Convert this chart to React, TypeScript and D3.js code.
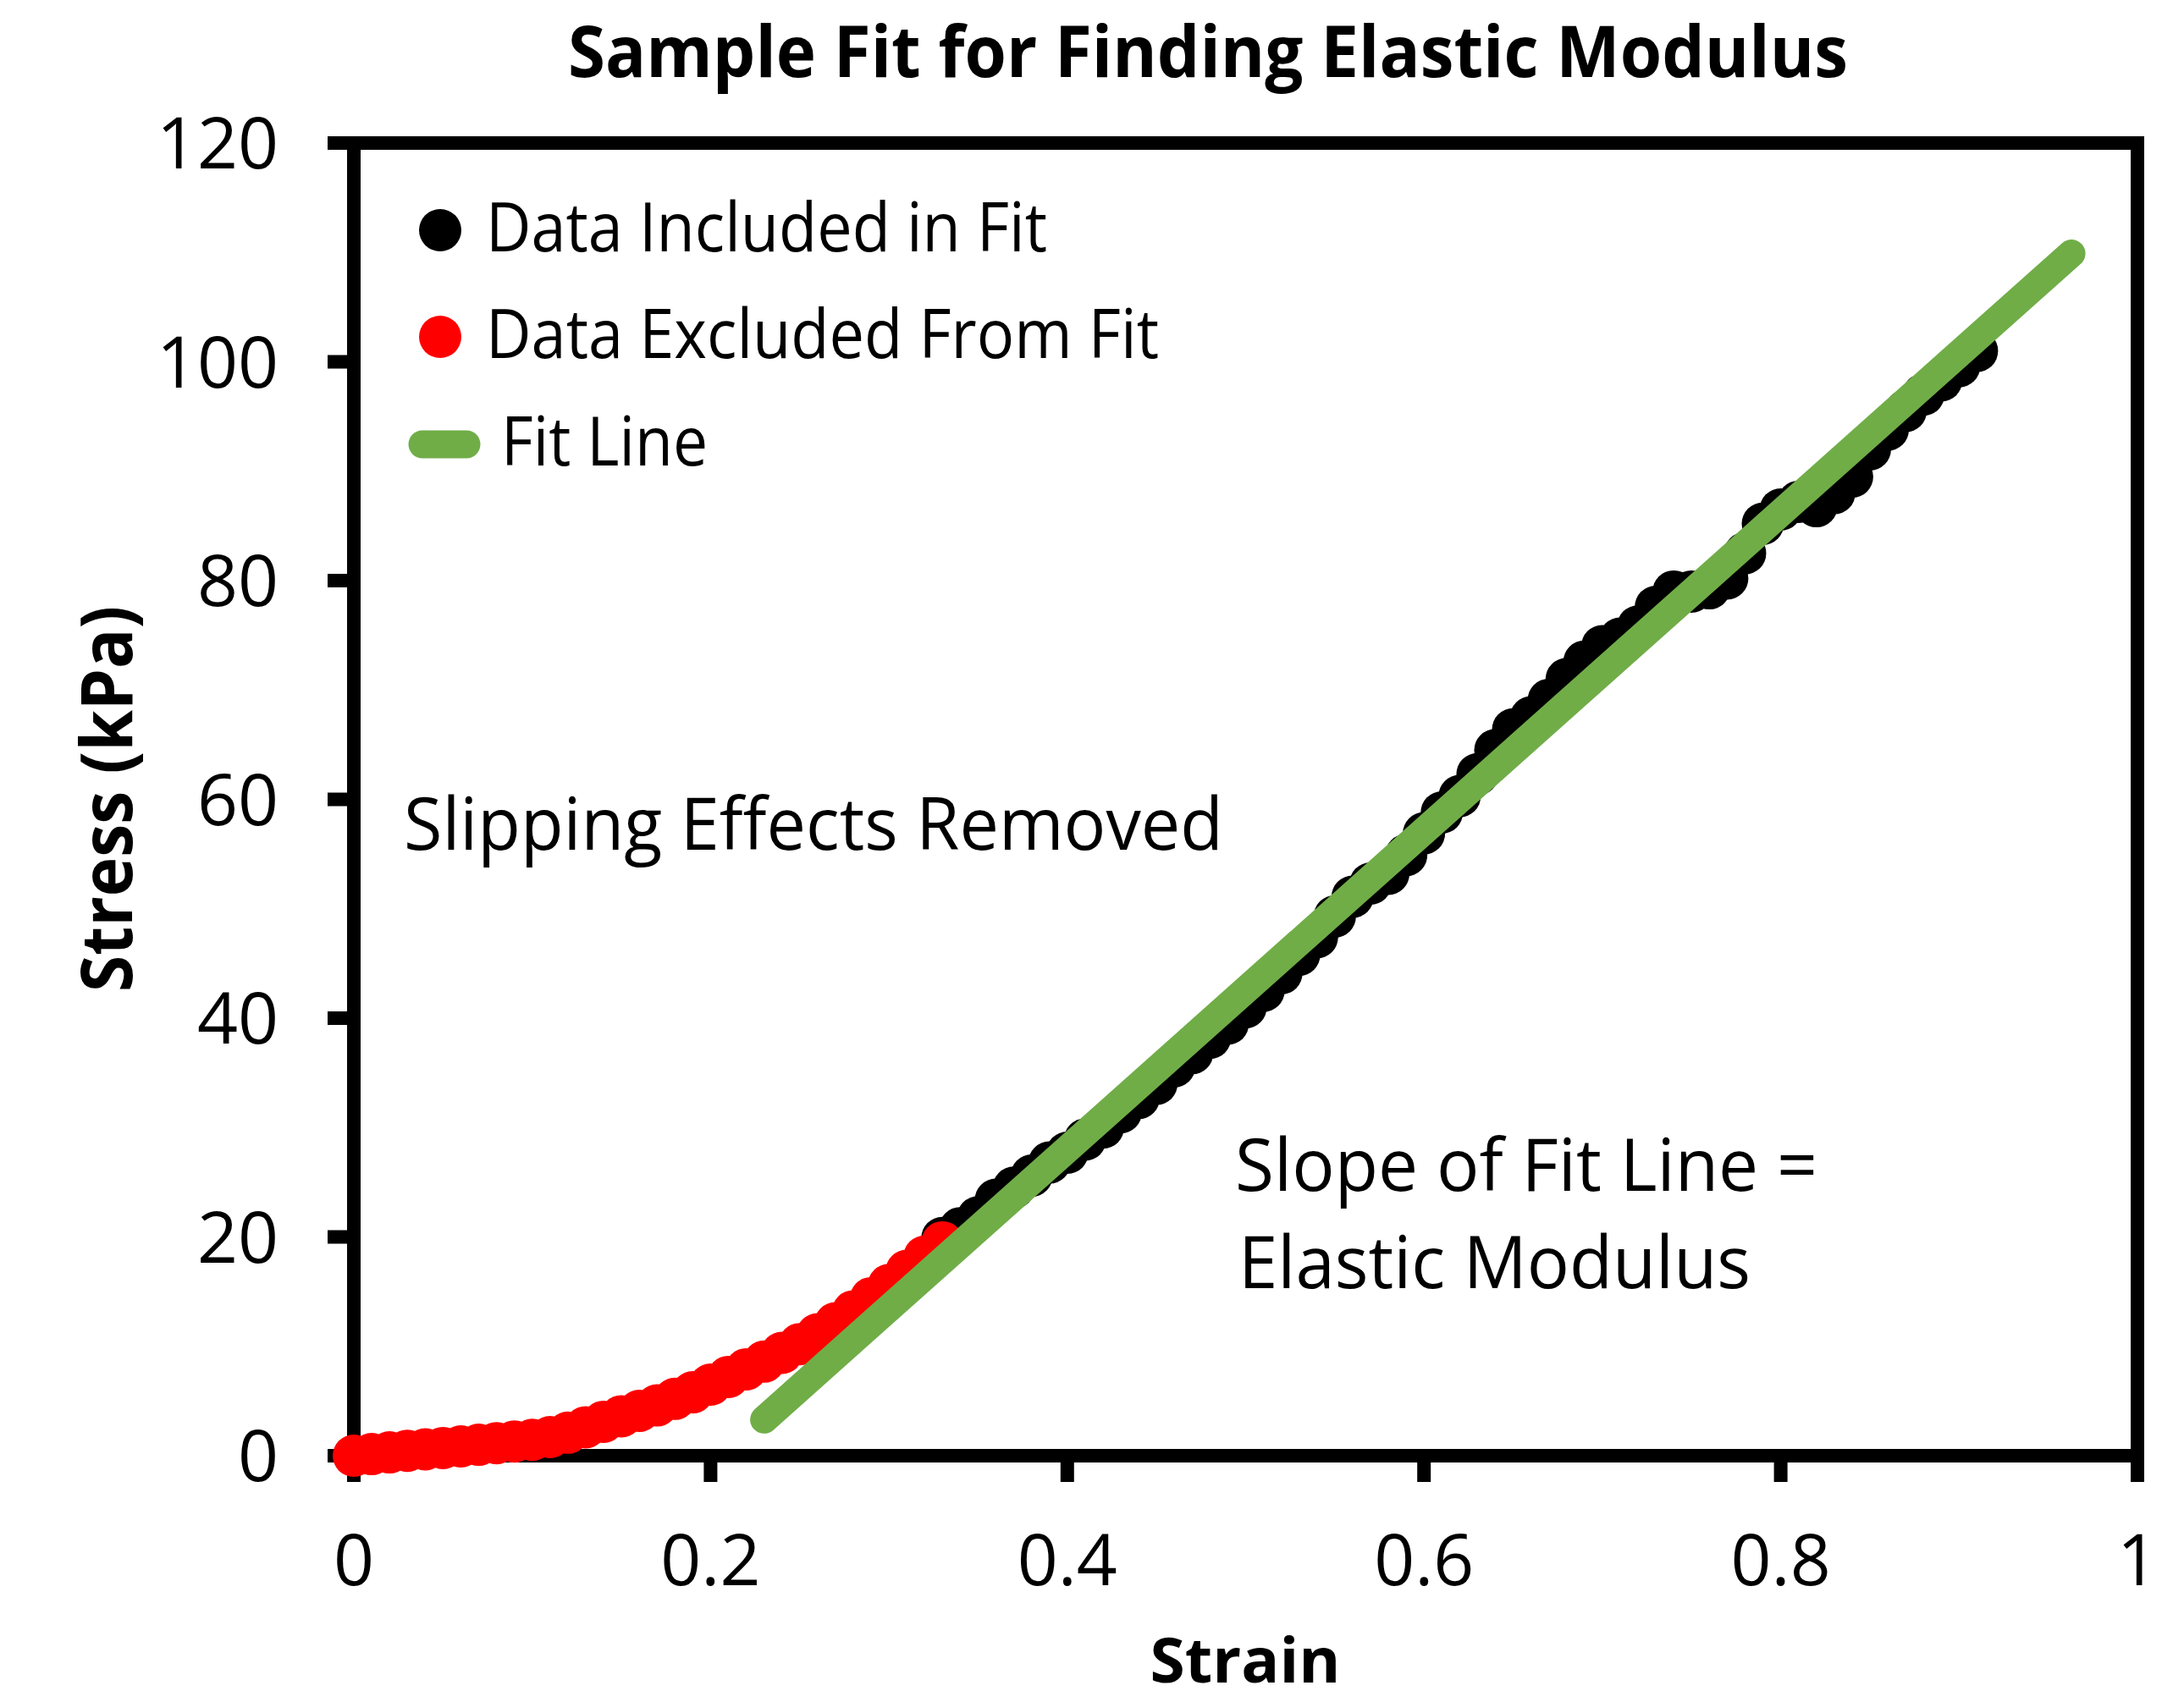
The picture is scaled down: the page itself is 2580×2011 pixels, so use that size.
import * as d3 from 'd3';
import { useEffect, useRef } from 'react';

// data excluded from the fit (slipping region)
const redStrain = [0, 0.01, 0.02, 0.03, 0.04, 0.05, 0.06, 0.07, 0.08, 0.09, 0.1, 0.11, 0.12, 0.13, 0.14, 0.15, 0.16,
  0.17, 0.18, 0.19, 0.2, 0.21, 0.22, 0.23, 0.24, 0.25, 0.26, 0.27, 0.28, 0.29, 0.3, 0.31, 0.32, 0.33];
const redStress = [0, 0.15, 0.3, 0.45, 0.58, 0.7, 0.85, 1.0, 1.15, 1.3, 1.45, 1.7, 2.1, 2.6, 3.1, 3.6, 4.1,
  4.6, 5.2, 5.8, 6.5, 7.2, 7.9, 8.6, 9.4, 10.2, 11.1, 12.1, 13.2, 14.4, 15.6, 16.9, 18.2, 19.5];

// data included in the fit
const blackStrain = [0.33, 0.34, 0.35, 0.36, 0.37, 0.38, 0.39, 0.4, 0.41, 0.42, 0.43, 0.44, 0.45, 0.46, 0.47, 0.48,
  0.49, 0.5, 0.51, 0.52, 0.53, 0.54, 0.55, 0.56, 0.57, 0.58, 0.59, 0.6, 0.61, 0.62, 0.63, 0.64, 0.65, 0.66, 0.67,
  0.68, 0.69, 0.7, 0.71, 0.72, 0.73, 0.74, 0.75, 0.76, 0.77, 0.78, 0.79, 0.8, 0.81, 0.82, 0.83, 0.84, 0.85, 0.86,
  0.87, 0.88, 0.89, 0.9, 0.91];
const blackStress = [19.9, 20.8, 21.8, 23.4, 24.5, 25.6, 26.8, 27.7, 28.9, 30.0, 31.4, 32.7, 34.0, 35.6, 36.8, 38.2,
  39.5, 41.0, 42.5, 44.1, 45.8, 47.4, 49.3, 51.1, 52.3, 53.2, 54.9, 56.9, 58.8, 60.3, 62.3, 64.5, 66.4, 67.5, 69.1,
  71.0, 72.6, 74.0, 74.7, 75.8, 77.6, 79.0, 79.0, 79.3, 80.2, 82.5, 85.2, 86.5, 87.2, 86.8, 88.0, 89.5, 92.0, 93.8,
  95.5, 97.0, 98.3, 99.6, 101.0];

// fit line end points
const fitStrain = [0.23, 0.963];
const fitStress = [3.3, 109.9];

const xTicks = [0, 0.2, 0.4, 0.6, 0.8, 1];
const xTickLabels = ['0', '0.2', '0.4', '0.6', '0.8', '1'];
const yTicks = [0, 20, 40, 60, 80, 100, 120];
const yTickLabels = ['0', '20', '40', '60', '80', '100', '120'];

const legendLabels = ['Data Included in Fit', 'Data Excluded From Fit', 'Fit Line'];

const FONT = "'Open Sans', 'Liberation Sans', sans-serif";

function App() {
  const ref = useRef<SVGSVGElement>(null);

  useEffect(() => {
    const W = 2580;
    const H = 2011;
    const margin = {
      left: 418,
      top: 169,
      right: 55,
      bottom: 291,
    };
    const w = W - margin.left - margin.right;
    const h = H - margin.top - margin.bottom;

    const svg = d3.select(ref.current);
    svg.selectAll('*').remove();

    svg.append('rect').attr('width', W).attr('height', H).attr('fill', '#fff');

    const g = svg.append('g')
      .attr('transform', `translate(${margin.left},${margin.top})`);

    const x = d3.scaleLinear().domain([0, 1]).range([0, w]);
    const y = d3.scaleLinear().domain([0, 120]).range([h, 0]);

    // tick marks (outside)
    g.selectAll('.ytick')
      .data(yTicks)
      .enter()
      .append('line')
      .attr('x1', -31)
      .attr('x2', 0)
      .attr('y1', (d) => y(d))
      .attr('y2', (d) => y(d))
      .attr('stroke', '#000')
      .attr('stroke-width', 16);
    g.selectAll('.xtick')
      .data(xTicks)
      .enter()
      .append('line')
      .attr('x1', (d) => x(d))
      .attr('x2', (d) => x(d))
      .attr('y1', h)
      .attr('y2', h + 31)
      .attr('stroke', '#000')
      .attr('stroke-width', 16);

    // frame (drawn under the markers)
    g.append('rect')
      .attr('width', w)
      .attr('height', h)
      .attr('fill', 'none')
      .attr('stroke', '#000')
      .attr('stroke-width', 16);

    // tick labels
    g.selectAll('.ylab')
      .data(yTicks)
      .enter()
      .append('text')
      .attr('x', -89)
      .attr('y', (d) => y(d) + 30)
      .attr('text-anchor', 'end')
      .attr('font-family', FONT)
      .attr('font-size', 84)
      .text((d, i) => yTickLabels[i]);
    g.selectAll('.xlab')
      .data(xTicks)
      .enter()
      .append('text')
      .attr('x', (d) => x(d))
      .attr('y', h + 153)
      .attr('text-anchor', 'middle')
      .attr('font-family', FONT)
      .attr('font-size', 84)
      .text((d, i) => xTickLabels[i]);

    // data
    const black = blackStrain.map((s, i) => [s, blackStress[i]]);
    const red = redStrain.map((s, i) => [s, redStress[i]]);
    g.append('g')
      .selectAll('circle')
      .data(black)
      .enter()
      .append('circle')
      .attr('cx', (d) => x(d[0]))
      .attr('cy', (d) => y(d[1]))
      .attr('r', 25)
      .attr('fill', '#000');
    g.append('g')
      .selectAll('circle')
      .data(red)
      .enter()
      .append('circle')
      .attr('cx', (d) => x(d[0]))
      .attr('cy', (d) => y(d[1]))
      .attr('r', 25)
      .attr('fill', '#ff0000');

    const line = d3.line<number>()
      .x((d, i) => x(fitStrain[i]))
      .y((d) => y(d));
    g.append('path')
      .attr('d', line(fitStress))
      .attr('fill', 'none')
      .attr('stroke', '#70ad47')
      .attr('stroke-width', 33)
      .attr('stroke-linecap', 'round');

    // legend
    const legendY = [272, 398, 525];
    svg.append('circle').attr('cx', 520).attr('cy', legendY[0]).attr('r', 25).attr('fill', '#000');
    svg.append('circle').attr('cx', 520).attr('cy', legendY[1]).attr('r', 25).attr('fill', '#ff0000');
    svg.append('line')
      .attr('x1', 499).attr('x2', 551)
      .attr('y1', legendY[2]).attr('y2', legendY[2])
      .attr('stroke', '#70ad47')
      .attr('stroke-width', 33)
      .attr('stroke-linecap', 'round');
    const legendX = [574, 574, 592];
    const legendLen = [663, 795, 244];
    legendLabels.forEach((t, i) => {
      svg.append('text')
        .attr('x', legendX[i])
        .attr('y', legendY[i] + 25)
        .attr('font-family', FONT)
        .attr('font-size', 80)
        .attr('textLength', legendLen[i])
        .attr('lengthAdjust', 'spacingAndGlyphs')
        .text(t);
    });

    // annotations
    const note = (t: string, px: number, py: number, len: number) => svg.append('text')
      .attr('x', px)
      .attr('y', py)
      .attr('font-family', FONT)
      .attr('font-size', 86)
      .attr('textLength', len)
      .attr('lengthAdjust', 'spacingAndGlyphs')
      .text(t);
    note('Slipping Effects Removed', 477, 1004, 968);
    note('Slope of Fit Line =', 1459, 1407, 688);
    note('Elastic Modulus', 1463, 1522, 605);

    // title and axis titles
    svg.append('text')
      .attr('x', 1427)
      .attr('y', 91)
      .attr('text-anchor', 'middle')
      .attr('font-family', FONT)
      .attr('font-weight', 'bold')
      .attr('font-size', 84)
      .attr('textLength', 1512)
      .attr('lengthAdjust', 'spacingAndGlyphs')
      .text('Sample Fit for Finding Elastic Modulus');
    svg.append('text')
      .attr('x', 1471)
      .attr('y', 1988)
      .attr('text-anchor', 'middle')
      .attr('font-family', FONT)
      .attr('font-weight', 'bold')
      .attr('font-size', 74)
      .attr('textLength', 225)
      .attr('lengthAdjust', 'spacingAndGlyphs')
      .text('Strain');
    svg.append('text')
      .attr('transform', 'translate(156,944) rotate(-90)')
      .attr('text-anchor', 'middle')
      .attr('font-family', FONT)
      .attr('font-weight', 'bold')
      .attr('font-size', 84)
      .attr('textLength', 456)
      .attr('lengthAdjust', 'spacingAndGlyphs')
      .text('Stress (kPa)');
  }, []);

  return (
    <svg
      ref={ref}
      width={2580}
      height={2011}
      style={{ position: 'absolute', left: 0, top: 0, display: 'block' }}
    />
  );
}

export default App;
